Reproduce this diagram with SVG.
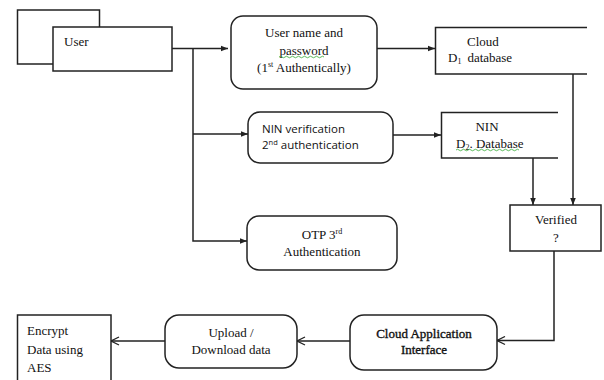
<svg xmlns="http://www.w3.org/2000/svg" width="604" height="380" viewBox="0 0 604 380">
<style>
.box{fill:#fff;stroke:#222;stroke-width:1.5}
.ln{fill:none;stroke:#222;stroke-width:1.5}
.s{font-family:"Liberation Serif","Times New Roman",serif;font-size:13px;fill:#111}
.b{stroke:#111;stroke-width:0.35}
.sans{font-family:"Open Sans","Liberation Sans",sans-serif;font-size:11.5px;fill:#111}
.m{text-anchor:middle}
.sup{font-size:8px}
</style>
<defs>
<marker id="fa" viewBox="0 0 10 10" refX="10" refY="5" markerWidth="7" markerHeight="7" orient="auto" markerUnits="userSpaceOnUse">
<path d="M0,1 L10,5 L0,9 z" fill="#222"/>
</marker>
<marker id="oa" viewBox="0 0 10 10" refX="10" refY="5" markerWidth="10" markerHeight="10" orient="auto" markerUnits="userSpaceOnUse">
<path d="M2,1 L10,5 L2,9" fill="none" stroke="#222" stroke-width="1.3"/>
</marker>
</defs>
<rect width="604" height="380" fill="#fff"/>
<g id="connectors">
<path class="ln" d="M172,48.5 H228" marker-end="url(#fa)"/>
<path class="ln" d="M193,48.5 V241 H247" marker-end="url(#fa)"/>
<path class="ln" d="M193,134 H248" marker-end="url(#fa)"/>
<path class="ln" d="M377,48.5 H435" marker-end="url(#fa)"/>
<path class="ln" d="M393,135 H441" marker-end="url(#fa)"/>
<path class="ln" d="M573,74 V205" marker-end="url(#fa)"/>
<path class="ln" d="M533,158 V205" marker-end="url(#fa)"/>
<path class="ln" d="M554,251 V340.5 H497" marker-end="url(#oa)"/>
<path class="ln" d="M350,341 H297" marker-end="url(#oa)"/>
<path class="ln" d="M165,341 H111" marker-end="url(#oa)"/>
</g>
<g id="user">
<rect class="box" x="17.5" y="10" width="82" height="54"/>
<rect class="box" x="53" y="27" width="119" height="44"/>
<text class="s" x="64" y="46">User</text>
</g>
<g id="userpass">
<rect class="box" x="231" y="16" width="146" height="73" rx="12"/>
<text class="s m" x="304" y="37">User name and</text>
<text class="s m" x="304" y="55">password</text>
<path d="M279,57 q1.5,-1.5 3,0 t3,0 t3,0 t3,0 t3,0 t3,0 t3,0 t3,0 t3,0 t3,0 t3,0 t3,0 t3,0 t3,0 t3,0" fill="none" stroke="#3a3" stroke-width="0.8"/>
<text class="s m" x="304" y="72">(1<tspan class="sup" dy="-5">st</tspan><tspan dy="5"> Authentically)</tspan></text>
</g>
<g id="cloud">
<path class="ln" d="M587,27.5 H435.5 V74 H587"/>
<text class="s" x="467" y="46">Cloud</text>
<text class="s" x="448" y="62">D<tspan font-size="8" dy="2">1</tspan><tspan dy="-2" dx="6">database</tspan></text>
</g>
<g id="ninver">
<rect class="box" x="248" y="112" width="145" height="51" rx="12"/>
<text class="sans" x="262" y="133">NIN verification</text>
<text class="sans" x="262" y="149">2<tspan font-size="7.5" dy="-4">nd</tspan><tspan dy="4"> authentication</tspan></text>
</g>
<g id="nin">
<path class="ln" d="M558,112.5 H441.5 V158 H558"/>
<text class="s m" x="487" y="131">NIN</text>
<text class="s" x="456" y="148">D<tspan font-size="8" dy="2">2</tspan><tspan dy="-2">. Database</tspan></text>
<path d="M456,150 q1.5,-1.5 3,0 t3,0 t3,0 t3,0 t3,0 t3,0 t3,0 t3,0 t3,0 t3,0 t3,0 t3,0 t3,0 t3,0 t3,0 t3,0 t3,0 t3,0 t3,0 t3,0 t3,0" fill="none" stroke="#3a3" stroke-width="0.8"/>
</g>
<g id="otp">
<rect class="box" x="247" y="216" width="150" height="54" rx="12"/>
<text class="s m" x="322" y="239">OTP 3<tspan class="sup" dy="-5">rd</tspan></text>
<text class="s m" x="322" y="256">Authentication</text>
</g>
<g id="verified">
<rect class="box" x="510" y="205" width="91" height="46"/>
<text class="s m" x="556" y="224">Verified</text>
<text class="s m" x="556" y="242">?</text>
</g>
<g id="cloudapp">
<rect class="box" x="350" y="315" width="147" height="55" rx="14"/>
<text class="s b m" x="424" y="338">Cloud Application</text>
<text class="s b m" x="424" y="354">Interface</text>
</g>
<g id="upload">
<rect class="box" x="165" y="315" width="132" height="53" rx="14"/>
<text class="s m" x="231" y="337">Upload /</text>
<text class="s m" x="231" y="354">Download data</text>
</g>
<g id="encrypt">
<rect class="box" x="17.5" y="315" width="93.5" height="70"/>
<text class="s" x="27" y="335" font-size="15">Encrypt</text>
<text class="s" x="27" y="354" font-size="15">Data using</text>
<text class="s" x="27" y="372" font-size="15">AES</text>
</g>
</svg>
